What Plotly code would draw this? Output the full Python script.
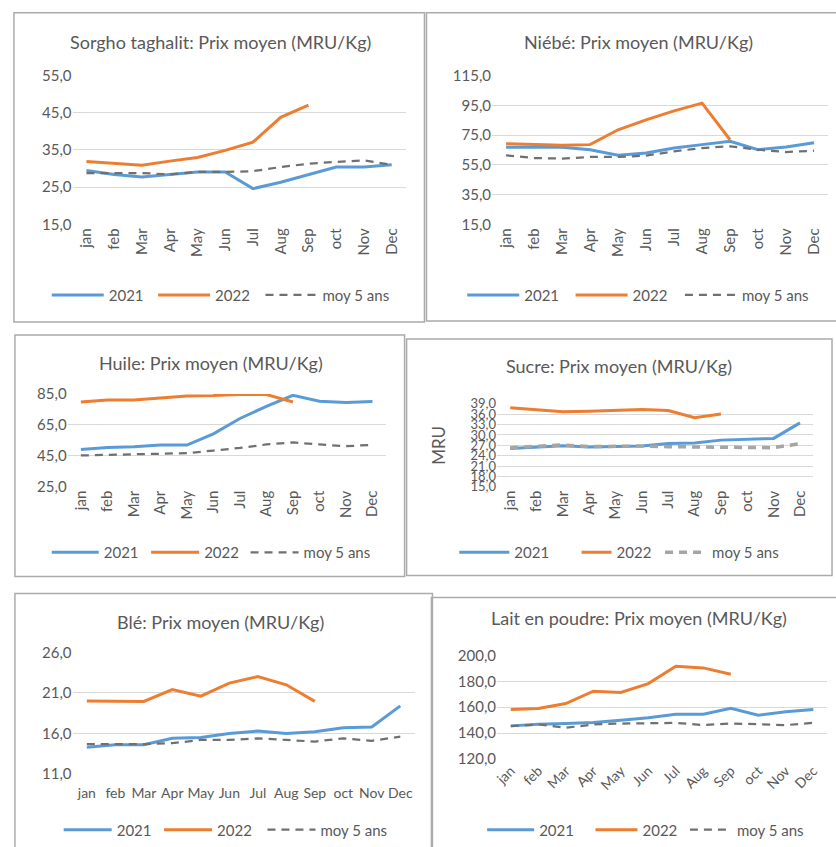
import plotly.graph_objects as go

W, H = 836, 847

months = ["jan", "feb", "Mar", "Apr", "May", "Jun", "Jul", "Aug", "Sep", "oct", "Nov", "Dec"]
months_2022 = months[:9]
series_names = ["2021", "2022", "moy 5 ans"]

# ---- data (MRU/Kg) ----
sorgho_2021 = [29.5, 28.4, 27.7, 28.4, 29.1, 29.1, 24.6, 26.3, 28.4, 30.4, 30.4, 31.0]
sorgho_2022 = [31.9, 31.4, 30.9, 32.0, 33.0, 34.9, 37.1, 43.8, 47.1]
sorgho_moy = [28.8, 28.8, 28.8, 28.4, 29.1, 29.1, 29.3, 30.4, 31.3, 31.8, 32.2, 31.0]
sorgho_ticks = [15, 25, 35, 45, 55]

niebe_2021 = [66.8, 66.8, 66.8, 65.2, 61.4, 63.0, 66.3, 68.6, 70.8, 65.2, 67.0, 69.9]
niebe_2022 = [69.2, 68.6, 68.1, 68.6, 78.6, 85.3, 91.3, 96.5, 71.9]
niebe_moy = [61.4, 59.6, 59.2, 60.3, 60.3, 61.2, 64.1, 66.3, 67.5, 65.2, 63.6, 64.5]
niebe_ticks = [15, 35, 55, 75, 95, 115]

huile_2021 = [49.1, 50.4, 50.8, 51.9, 51.9, 59.2, 69.1, 77.0, 84.1, 80.3, 79.4, 80.1]
huile_2022 = [79.8, 81.1, 81.1, 82.4, 83.7, 83.9, 84.6, 84.6, 79.8]
huile_moy = [45.2, 45.6, 45.6, 46.3, 46.7, 48.4, 50.1, 52.3, 53.6, 52.3, 51.2, 52.1]
huile_ticks = [25, 45, 65, 85]

sucre_2021 = [26.1, 26.4, 26.9, 26.5, 26.6, 26.8, 27.5, 27.7, 28.5, 28.7, 29.0, 33.5]
sucre_2022 = [37.9, 37.4, 36.7, 36.9, 37.1, 37.4, 37.1, 35.0, 36.1]
sucre_moy = [26.3, 26.6, 27.1, 26.6, 26.8, 26.8, 26.6, 26.5, 26.5, 26.3, 26.3, 27.5]
sucre_ticks = [15, 18, 21, 24, 27, 30, 33, 36, 39]

ble_2021 = [14.3, 14.6, 14.6, 15.4, 15.5, 16.0, 16.3, 16.0, 16.2, 16.7, 16.8, 19.4]
ble_2022 = [20.0, 20.0, 19.95, 21.4, 20.6, 22.2, 23.0, 22.0, 19.95]
ble_moy = [14.7, 14.7, 14.7, 14.8, 15.2, 15.2, 15.4, 15.2, 15.0, 15.4, 15.1, 15.6]
ble_ticks = [11, 16, 21, 26]

lait_2021 = [145.6, 146.9, 147.4, 148.2, 150.0, 151.8, 154.6, 154.6, 159.2, 153.8, 156.4, 158.2]
lait_2022 = [158.2, 159.0, 162.8, 172.3, 171.3, 178.2, 191.5, 190.3, 185.4]
lait_moy = [145.4, 146.7, 144.1, 146.7, 147.4, 147.4, 147.9, 146.2, 147.4, 146.9, 146.2, 147.9]
lait_ticks = [120, 140, 160, 180, 200]

titles = [
    "Sorgho taghalit: Prix moyen (MRU/Kg)",
    "Niébé: Prix moyen (MRU/Kg)",
    "Huile: Prix moyen (MRU/Kg)",
    "Sucre: Prix moyen (MRU/Kg)",
    "Blé: Prix moyen (MRU/Kg)",
    "Lait en poudre: Prix moyen (MRU/Kg)",
]
data = [
    (sorgho_2021, sorgho_2022, sorgho_moy, sorgho_ticks),
    (niebe_2021, niebe_2022, niebe_moy, niebe_ticks),
    (huile_2021, huile_2022, huile_moy, huile_ticks),
    (sucre_2021, sucre_2022, sucre_moy, sucre_ticks),
    (ble_2021, ble_2022, ble_moy, ble_ticks),
    (lait_2021, lait_2022, lait_moy, lait_ticks),
]

# ---- layout geometry (target pixels on the final picture) ----
geom = [
    dict(plot=(68, 403, 74, 223), title=(217, 40), leg=((50, 157, 265), 294), lw=(52, 52, 52),
         angle=-90, box=(9, 422, 11, 321), xf=15, xs=0, yf=15),
    dict(plot=(490, 828, 74, 223), title=(637, 40), leg=((468, 577, 687), 294), lw=(52, 52, 52),
         angle=-90, box=(424, 840, 11, 320), xf=15, xs=0, yf=15),
    dict(plot=(63, 383, 393, 486), title=(207, 362), leg=((50, 150, 250), 552), lw=(47, 48, 48),
         angle=-90, box=(10, 402, 334, 576), xf=15, xs=0, yf=15),
    dict(plot=(495, 813, 403, 486), title=(618, 365), leg=((460, 583, 667), 552), lw=(50, 30, 42),
         angle=-90, box=(404, 832, 338, 575), xf=15, xs=0, yf=13),
    dict(plot=(68, 412, 652, 774), title=(217, 622), leg=((62, 163, 267), 830), lw=(48, 48, 48),
         angle=0, box=(10, 430, 593, 860), xf=14, xs=9, yf=15),
    dict(plot=(495, 827, 655, 759), title=(638, 618), leg=((488, 597, 692), 830), lw=(47, 42, 42),
         angle=-45, box=(429, 840, 597, 860), xf=14, xs=0, yf=15),
]

BLUE = "#5B9BD5"
ORANGE = "#ED7D31"
DASH = "#707070"
TXT = "#595959"
GRID = "#D9D9D9"
FONT = "Lato"

# the rendered page comes out vertically squeezed/shifted; map target px -> paper
Y_SCALE, Y_OFF = 0.981, 8.2


def px_x(v):
    return v / W


def px_y(v):
    return 1 - ((v - Y_OFF) / Y_SCALE) / H


fig = go.Figure()
layout = dict(
    width=W, height=H,
    margin=dict(l=0, r=0, t=0, b=0),
    paper_bgcolor="white", plot_bgcolor="white",
    font=dict(family=FONT, color=TXT, size=15),
    showlegend=True,
    annotations=[], shapes=[],
)

n_leg = 0
for i, (g, (s21, s22, moy, ticks), title) in enumerate(zip(geom, data, titles), start=1):
    sfx = "" if i == 1 else str(i)
    xa, ya = f"x{sfx}", f"y{sfx}"
    dash_col = "#A5A5A5" if i == 4 else DASH
    dash_w = 3.5 if i == 4 else 2.25
    series = [
        (months, s21, dict(color=BLUE, width=3)),
        (months_2022, s22, dict(color=ORANGE, width=3)),
        (months, moy, dict(color=dash_col, width=dash_w, dash="8px,6px")),
    ]
    starts, ly = g["leg"]
    for k, (xs, ys, line) in enumerate(series):
        n_leg += 1
        leg = "legend" if n_leg == 1 else f"legend{n_leg}"
        fig.add_trace(go.Scatter(x=xs, y=ys, name=series_names[k], mode="lines",
                                 line=line, xaxis=xa, yaxis=ya, legend=leg, showlegend=True))
        layout[leg] = dict(
            orientation="h", x=px_x(starts[k] - 8), y=px_y(ly), xanchor="left", yanchor="middle",
            bgcolor="rgba(0,0,0,0)", font=dict(size=15, color=TXT), itemwidth=g["lw"][k],
        )
    x0, x1, yt, yb = g["plot"]
    layout[f"xaxis{sfx}"] = dict(
        domain=[px_x(x0), px_x(x1)], anchor=ya, type="category",
        categoryorder="array", categoryarray=months, range=[-0.5, 11.5],
        tickangle=g["angle"], showgrid=False, showline=False, zeroline=False,
        ticks="", tickfont=dict(size=g["xf"], color=TXT), ticklabelstandoff=g["xs"],
    )
    layout[f"yaxis{sfx}"] = dict(
        domain=[px_y(yb), px_y(yt)], anchor=xa, range=[ticks[0], ticks[-1]],
        tickvals=ticks, ticktext=[f"{t},0" for t in ticks],
        showgrid=True, gridcolor=GRID, gridwidth=1, zeroline=False, showline=False,
        ticks="", tickfont=dict(size=g["yf"], color=TXT),
    )
    if i == 4:
        layout[f"yaxis{sfx}"]["title"] = dict(text="MRU", font=dict(size=17, color=TXT), standoff=20)
    tx, ty = g["title"]
    layout["annotations"].append(dict(
        text=title, x=px_x(tx), y=px_y(ty), xref="paper", yref="paper",
        xanchor="center", yanchor="middle", showarrow=False,
        font=dict(size=18, color=TXT, family=FONT),
    ))
    bx0, bx1, by0, by1 = g["box"]
    layout["shapes"].append(dict(
        type="rect", xref="paper", yref="paper",
        x0=px_x(bx0), x1=px_x(bx1), y0=px_y(by1), y1=px_y(by0),
        line=dict(color="#ABABAB", width=1.5), fillcolor="rgba(0,0,0,0)", layer="below",
    ))

fig.update_layout(**layout)
fig.write_html(
    "out.html",
    config={"displayModeBar": False},
    post_script=(
        "document.documentElement.style.margin='0';"
        "document.body.style.margin='0';"
        "document.documentElement.style.overflow='hidden';"
        "document.body.style.overflow='hidden';"
    ),
)
